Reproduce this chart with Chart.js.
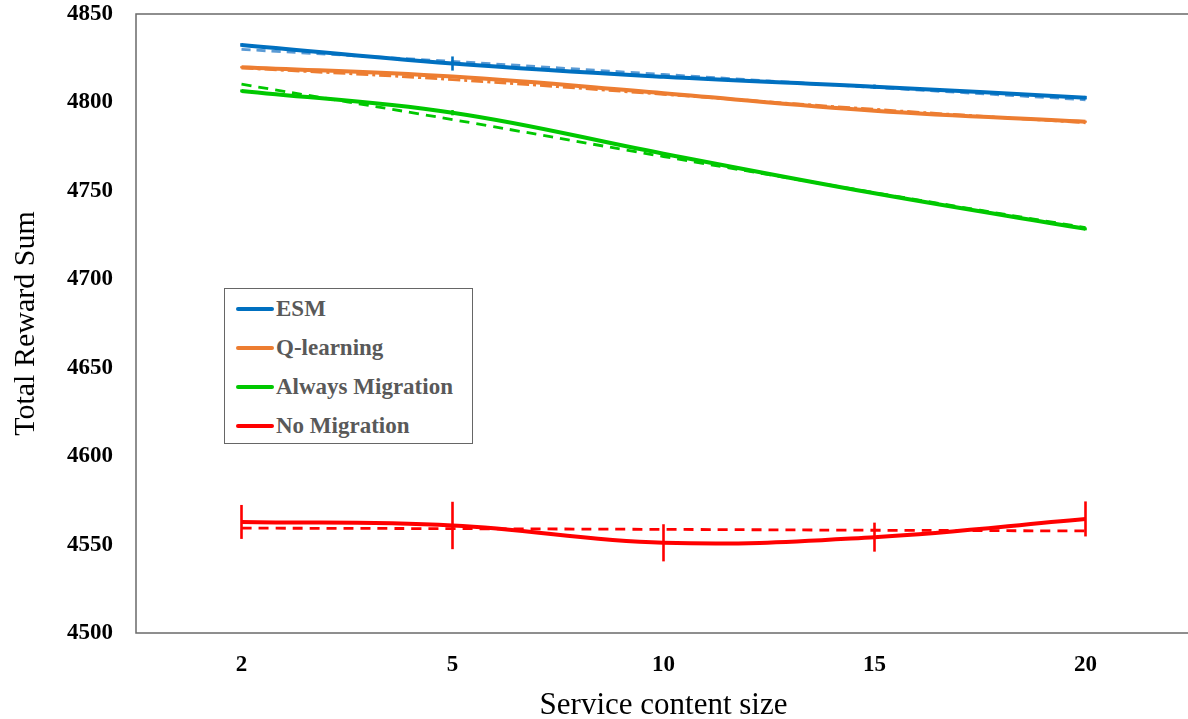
<!DOCTYPE html>
<html>
<head>
<meta charset="utf-8">
<script src="https://cdn.jsdelivr.net/npm/chart.js@4"></script>
<style>
  html, body { margin: 0; padding: 0; background: #fff; overflow: hidden; }
  #wrap { position: relative; width: 1188px; height: 719px; overflow: hidden; }
  #chart { position: absolute; left: 0; top: 0; }
  #legend {
    position: absolute; left: 224px; top: 288px; width: 249px; height: 156px;
    border: 1px solid #666; background: #fff; box-sizing: border-box;
    font-family: "Liberation Serif", "Times New Roman", serif; font-weight: bold;
    font-size: 23px; color: #595959;
  }
  .item { position: absolute; left: 11px; height: 30px; display: flex; align-items: center; }
  .swatch { width: 38px; height: 4px; border-radius: 2px; margin-right: 2px; }
</style>
</head>
<body>
<div id="wrap">
  <canvas id="chart" width="1200" height="719"></canvas>
  <div id="legend"></div>
</div>
<script>
// Service content size categories
const categories = ['2', '5', '10', '15', '20'];

// Total reward sums per method
const esm = [4832.5, 4822, 4814.5, 4808.9, 4802.7];
const qLearning = [4819.9, 4814.6, 4805.2, 4795.3, 4789.1];
const alwaysMigration = [4806.5, 4794.2, 4771, 4748.6, 4728.5];
const noMigration = [4562.8, 4560.8, 4551, 4554.2, 4564.5];

// Error bar half-widths
const esmErr = [1, 4, 0.5, 1.2, 1];
const qLearningErr = [0.6, 0.6, 0.6, 0.6, 0.6];
const alwaysMigrationErr = [0.8, 1.5, 0.8, 0.8, 0.8];
const noMigrationErr = [9.6, 13.4, 10.5, 8.2, 9.9];

// Trend lines
const esmTrend = [4830, 4823.2, 4815.8, 4808.5, 4801.5];
const qLearningTrend = [4819.5, 4812.9, 4804.6, 4796.1, 4788.5];
const alwaysMigrationTrend = [4810.3, 4790.3, 4769.4, 4749, 4729.2];
const noMigrationTrend = [4559.3, 4559.0, 4558.6, 4558.1, 4557.7];

// Y axis ticks
const yMin = 4500, yMax = 4850, yStep = 50;

const serif = '"Liberation Serif", "Times New Roman", serif';

const series = [
  { label: 'ESM', data: esm, err: esmErr, trend: esmTrend, color: '#0070C0', trendColor: '#5B9BD5', dash: [9, 6] },
  { label: 'Q-learning', data: qLearning, err: qLearningErr, trend: qLearningTrend, color: '#ED7D31', trendColor: '#ED7D31', dash: [12, 4, 3, 4] },
  { label: 'Always Migration', data: alwaysMigration, err: alwaysMigrationErr, trend: alwaysMigrationTrend, color: '#00C800', trendColor: '#00C800', dash: [10, 7] },
  { label: 'No Migration', data: noMigration, err: noMigrationErr, trend: noMigrationTrend, color: '#FF0000', trendColor: '#FF0000', dash: [10, 7] }
];

const datasets = [];
series.forEach(s => {
  datasets.push({
    label: s.label, data: s.data, errors: s.err,
    borderColor: s.color, backgroundColor: s.color,
    borderWidth: 4, pointRadius: 0, tension: 0.4, fill: false
  });
});
series.forEach(s => {
  datasets.push({
    label: s.label + ' trend', data: s.trend,
    borderColor: s.trendColor, borderWidth: 2.8, borderDash: s.dash,
    pointRadius: 0, tension: 0.4, fill: false
  });
});

// Vertical error bars drawn through the chart's scales
const errorBars = {
  id: 'errorBars',
  afterDatasetsDraw(chart) {
    const ctx = chart.ctx;
    const yScale = chart.scales.y;
    chart.data.datasets.forEach((ds, i) => {
      if (!ds.errors) return;
      const meta = chart.getDatasetMeta(i);
      ctx.save();
      ctx.strokeStyle = ds.borderColor;
      ctx.lineWidth = 2.6;
      meta.data.forEach((pt, j) => {
        const v = ds.data[j], e = ds.errors[j];
        ctx.beginPath();
        ctx.moveTo(pt.x, yScale.getPixelForValue(v + e));
        ctx.lineTo(pt.x, yScale.getPixelForValue(v - e));
        ctx.stroke();
      });
      ctx.restore();
    });
  }
};

// Plot area frame
const frame = {
  id: 'frame',
  beforeDatasetsDraw(chart) {
    const { ctx, chartArea: a } = chart;
    ctx.save();
    ctx.strokeStyle = '#6a6a6a';
    ctx.lineWidth = 1.5;
    ctx.strokeRect(a.left, a.top, a.right - a.left, a.bottom - a.top);
    ctx.restore();
  }
};

new Chart(document.getElementById('chart'), {
  type: 'line',
  data: { labels: categories, datasets },
  options: {
    responsive: false,
    animation: false,
    layout: { padding: { top: 14, right: 9, left: 0, bottom: 0 } },
    plugins: { legend: { display: false }, tooltip: { enabled: false } },
    scales: {
      x: {
        type: 'category', offset: true,
        grid: { display: false, drawTicks: false },
        border: { display: false },
        ticks: { color: '#000', font: { family: serif, size: 23, weight: 'bold' }, padding: 18 },
        title: { display: true, text: 'Service content size', color: '#000', font: { family: serif, size: 31 }, padding: { top: 0, bottom: -5 } },
        afterFit(scale) { scale.height = 86; scale.paddingLeft = 0; scale.paddingRight = 0; }
      },
      y: {
        min: yMin, max: yMax,
        grid: { display: false, drawTicks: false },
        border: { display: false },
        ticks: {
          stepSize: yStep, color: '#000', font: { family: serif, size: 23, weight: 'bold' }, padding: 23,
          callback: v => String(v)
        },
        title: { display: true, text: 'Total Reward Sum', color: '#000', font: { family: serif, size: 30 }, padding: 8 },
        afterFit(scale) { scale.width = 136; scale.paddingTop = 0; scale.paddingBottom = 0; }
      }
    }
  },
  plugins: [frame, errorBars]
});

// Legend
const legend = document.getElementById('legend');
const rowTops = [5, 44, 83, 122];
series.forEach((s, i) => {
  const item = document.createElement('div');
  item.className = 'item';
  item.style.top = rowTops[i] + 'px';
  const sw = document.createElement('div');
  sw.className = 'swatch';
  sw.style.background = s.color;
  const tx = document.createElement('span');
  tx.textContent = s.label;
  item.appendChild(sw);
  item.appendChild(tx);
  legend.appendChild(item);
});
</script>
</body>
</html>
